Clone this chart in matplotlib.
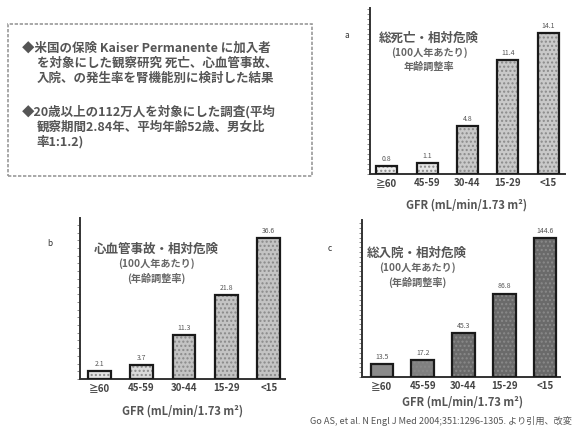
import matplotlib
matplotlib.use("Agg")
import matplotlib.pyplot as plt
import numpy as np

plt.rcParams['font.family'] = ['Noto Sans CJK JP', 'DejaVu Sans']

# GFR categories (mL/min/1.73 m²)
categories = ["≧60", "45-59", "30-44", "15-29", "<15"]

# Age-standardized rates per 100 person-years
death_rate = [0.8, 1.1, 4.8, 11.4, 14.1]
cv_event_rate = [2.1, 3.7, 11.3, 21.8, 36.6]
hospital_rate = [13.5, 17.2, 45.3, 86.8, 144.6]

panel_titles = {
    "a": ["総死亡・相対危険", "(100人年あたり)", "年齢調整率"],
    "b": ["心血管事故・相対危険", "(100人年あたり)", "(年齢調整率)"],
    "c": ["総入院・相対危険", "(100人年あたり)", "(年齢調整率)"],
}
xlabel = "GFR (mL/min/1.73 m²)"

summary_lines_1 = [
    "◆米国の保険 Kaiser Permanente に加入者",
    "を対象にした観察研究 死亡、心血管事故、",
    "入院、の発生率を腎機能別に検討した結果",
]
summary_lines_2 = [
    "◆20歳以上の112万人を対象にした調査(平均",
    "観察期間2.84年、平均年齢52歳、男女比",
    "率1:1.2)",
]
footer = "Go AS, et al. N Engl J Med 2004;351:1296-1305. より引用、改変"

W, H = 578, 446
fig = plt.figure(figsize=(W / 100, H / 100), dpi=100)
fig.patch.set_facecolor("white")


def px_axes(left, top, right, bottom):
    return fig.add_axes([left / W, 1 - bottom / H, (right - left) / W, (bottom - top) / H])


def fig_text(x, y, s, **kw):
    fig.text(x / W, 1 - y / H, s, **kw)


def bar_panel(ax, values, xlim, ymax, width, fills, tick_step, title_lines, title_xy):
    x = np.arange(len(values))
    ax.bar(x, values, width=width, color=fills, edgecolor="#8a8a8a",
           hatch="....", linewidth=0, zorder=2)
    ax.bar(x, values, width=width, fill=False, edgecolor="#1a1a1a",
           linewidth=1.6, zorder=3)
    for xi, v in zip(x, values):
        ax.text(xi, v + ymax * 0.02, f"{v:.1f}", ha="center", va="bottom",
                fontsize=5, color="#555555")
    ax.set_xlim(*xlim)
    ax.set_ylim(0, ymax)
    for s in ("top", "right"):
        ax.spines[s].set_visible(False)
    for s in ("left", "bottom"):
        ax.spines[s].set_color("#333333")
        ax.spines[s].set_linewidth(1.4)
    ax.set_yticks(np.arange(0, ymax, tick_step))
    ax.tick_params(axis="y", length=2, width=0.6, color="#777777", labelleft=False)
    ax.set_xticks(x)
    ax.set_xticklabels(categories, fontsize=7, color="#444444", fontweight="bold")
    ax.tick_params(axis="x", length=0, pad=3)
    ax.set_facecolor("none")
    tx, ty = title_xy
    for i, line in enumerate(title_lines):
        fig_text(tx, ty + i * 14.5, line, ha="center", va="center",
                 fontsize=9.0 if i == 0 else 7.3,
                 color="#555555" if i == 0 else "#666666",
                 fontweight="bold")


# Panel a: total mortality
ax_a = px_axes(370, 8, 565, 174)
bar_panel(ax_a, death_rate, (-0.42, 4.42), 16.65, 0.52,
          ["#eeeeee", "#e6e6e6", "#c9c9c9", "#c9c9c9", "#c9c9c9"], 0.5,
          panel_titles["a"], (429, 38))
fig_text(347, 35, "a", fontsize=6, color="#333333", ha="center", va="center")
fig_text(467, 205, xlabel, fontsize=8, color="#555555", ha="center", va="center",
         fontweight="bold")

# Panel b: cardiovascular events
ax_b = px_axes(80, 218, 285, 379)
bar_panel(ax_b, cv_event_rate, (-0.45, 4.38), 41.8, 0.54,
          ["#e4e4e4", "#dadada", "#c4c4c4", "#c4c4c4", "#c4c4c4"], 2,
          panel_titles["b"], (156, 249))
fig_text(50, 243, "b", fontsize=6, color="#333333", ha="center", va="center")
fig_text(183, 411, xlabel, fontsize=8, color="#555555", ha="center", va="center",
         fontweight="bold")

# Panel c: hospitalization
ax_c = px_axes(362, 220, 560, 377)
bar_panel(ax_c, hospital_rate, (-0.49, 4.37), 163.3, 0.56,
          ["#8a8a8a", "#808080", "#6a6a6a", "#6a6a6a", "#6a6a6a"], 5,
          panel_titles["c"], (417, 253))
fig_text(330, 248, "c", fontsize=6, color="#333333", ha="center", va="center")
fig_text(463, 402, xlabel, fontsize=8, color="#555555", ha="center", va="center",
         fontweight="bold")

# Summary box
box = plt.Rectangle((8 / W, 1 - 176 / H), (312 - 8) / W, (176 - 24) / H,
                    transform=fig.transFigure, fill=False, edgecolor="#9a9a9a",
                    linewidth=1.2, linestyle=(0, (2, 1)))
fig.add_artist(box)
for i, line in enumerate(summary_lines_1):
    fig_text(22 if i == 0 else 37, 48 + i * 15, line, fontsize=9.0,
             color="#555555", ha="left", va="center", fontweight="bold")
for i, line in enumerate(summary_lines_2):
    fig_text(22 if i == 0 else 37, 112 + i * 15, line, fontsize=9.0,
             color="#555555", ha="left", va="center", fontweight="bold")

fig_text(572, 421, footer, fontsize=6.6, color="#555555", ha="right", va="center")

fig.savefig("out.png", dpi=100, facecolor="white")
